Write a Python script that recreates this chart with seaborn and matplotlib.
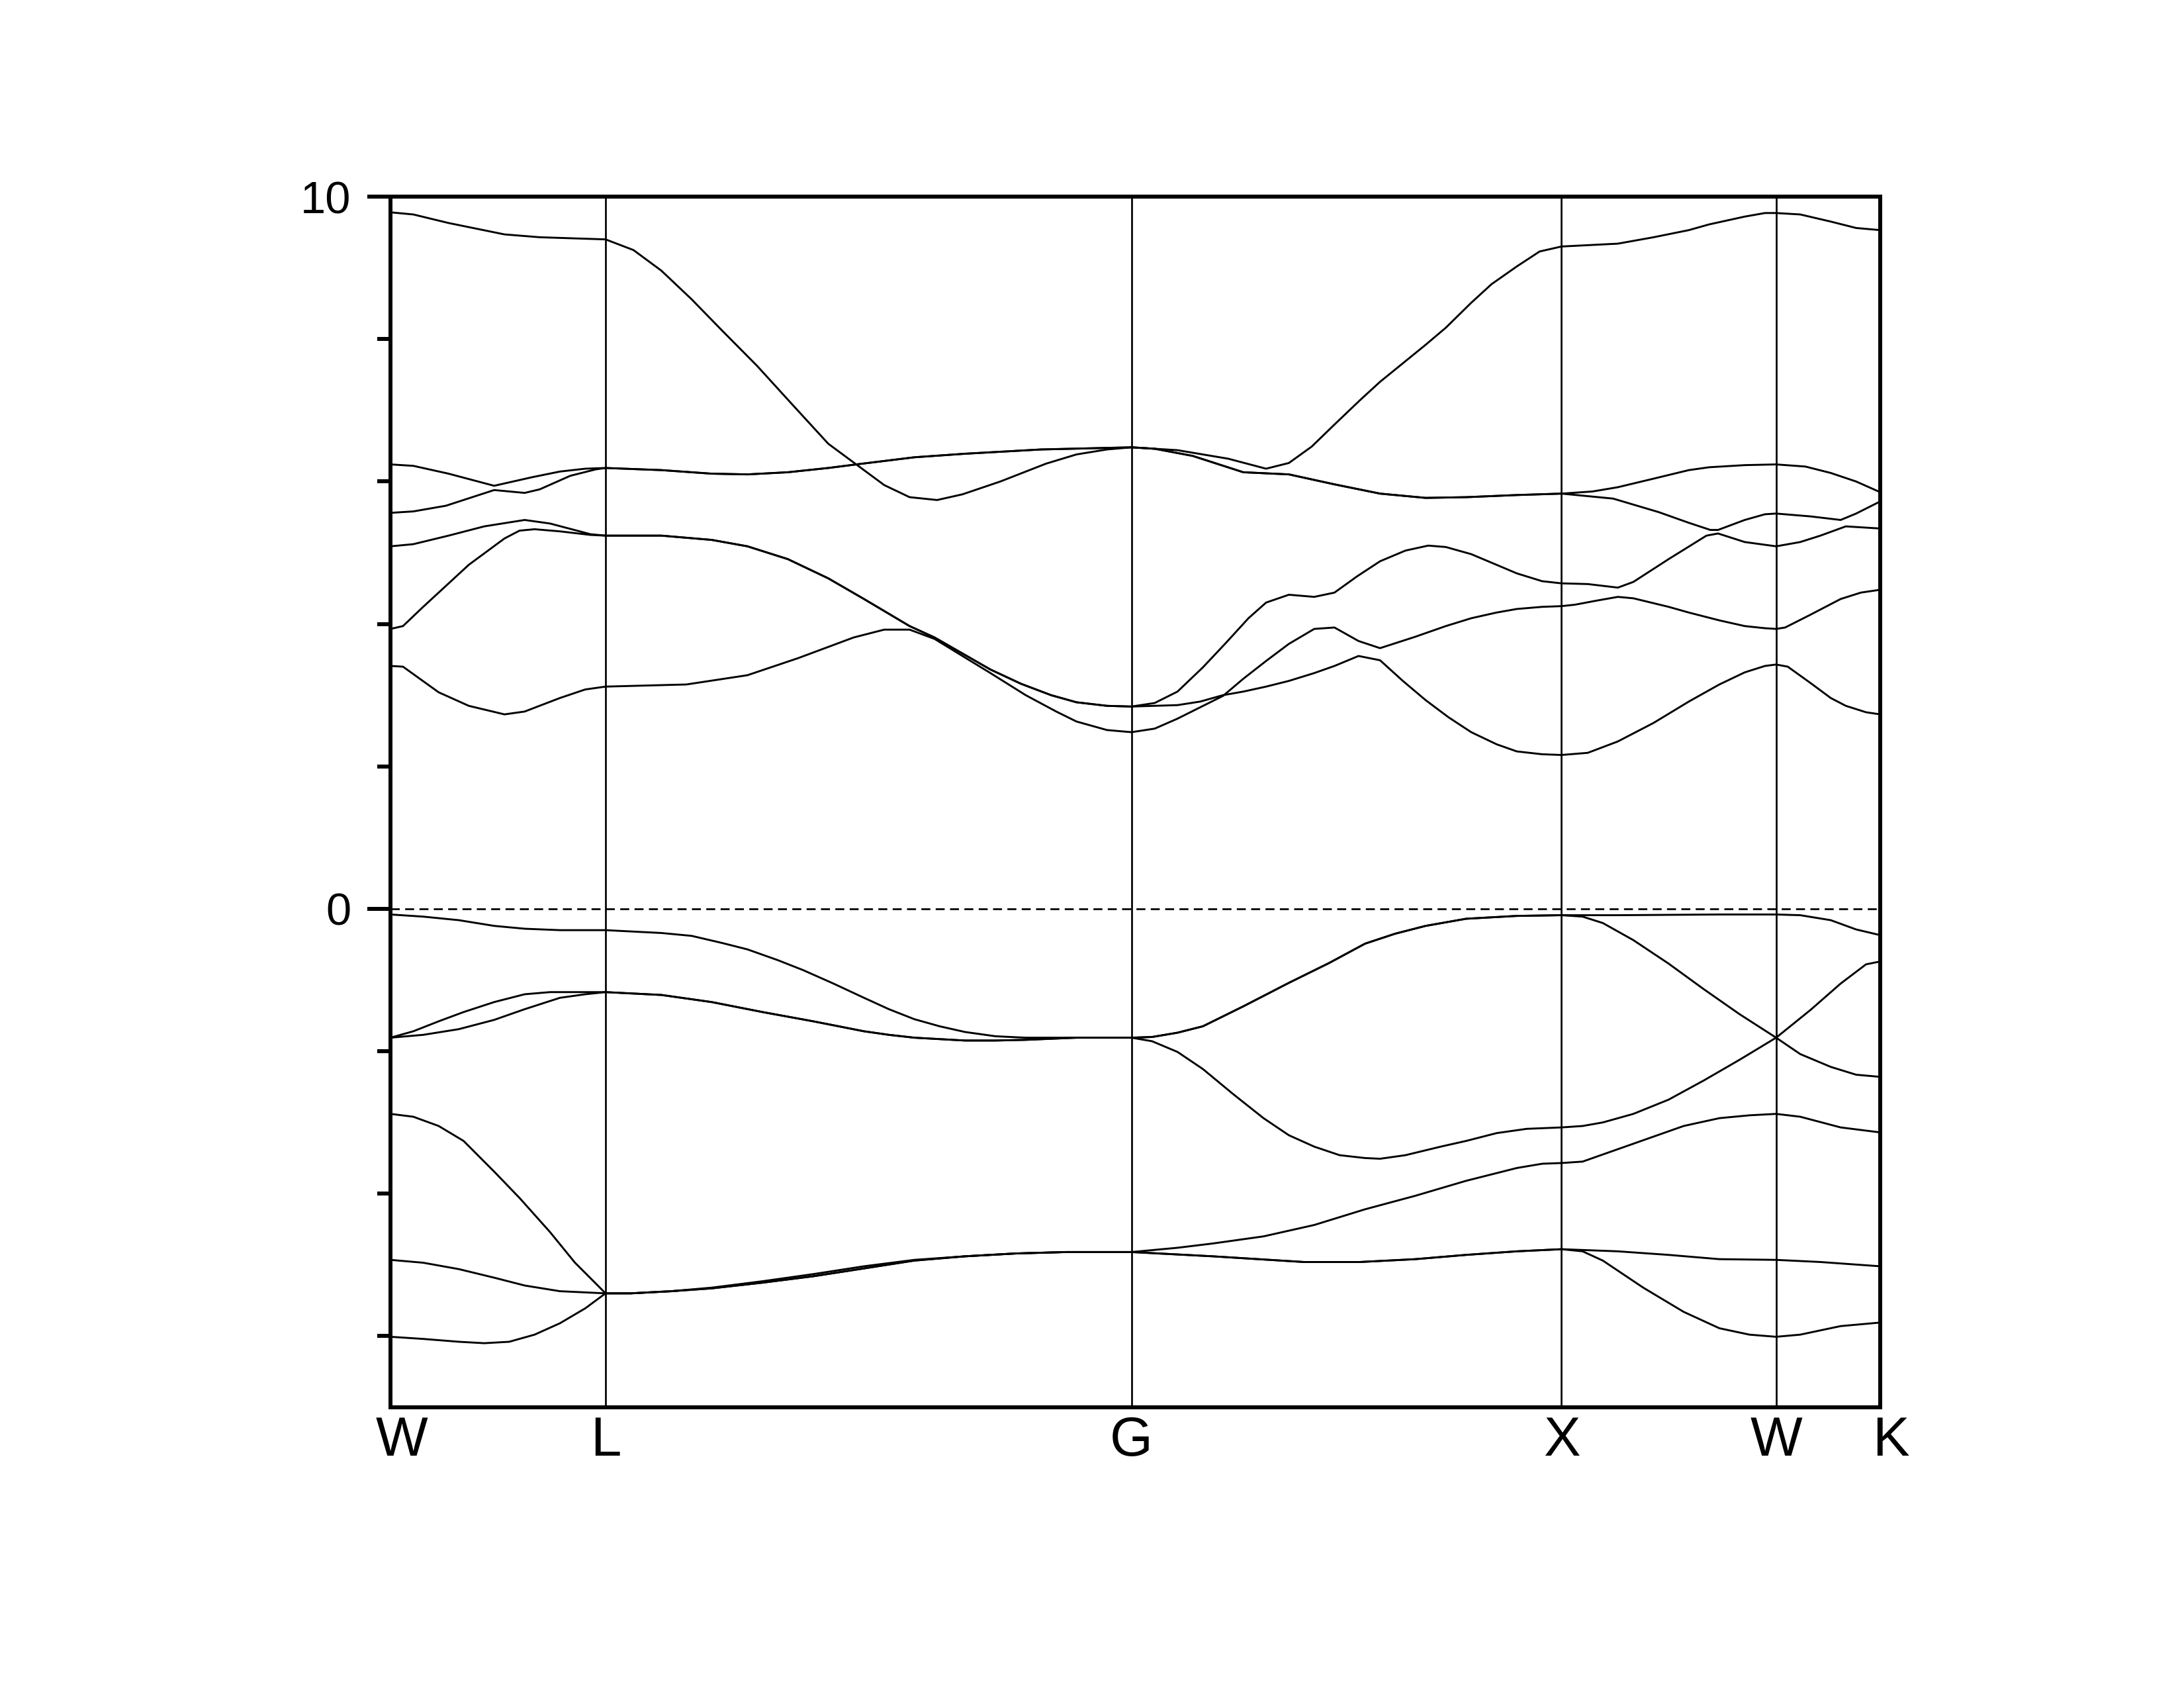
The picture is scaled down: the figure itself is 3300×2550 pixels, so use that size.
import matplotlib
matplotlib.use("Agg")
import matplotlib.pyplot as plt
import matplotlib.transforms as mtrans
from matplotlib.ticker import FixedLocator, MultipleLocator
import pandas as pd
import seaborn as sns

# high symmetry points along the path
kpoints = [0.0, 0.5, 1.723, 2.723, 3.222, 3.464]
klabels = ["W", "L", "G", "X", "W", "K"]

# ---- conduction bands (k, E) ----
c6 = [(0.000, 9.78), (0.053, 9.75), (0.135, 9.63), (0.265, 9.47), (0.347, 9.43), (0.500, 9.40),
      (0.565, 9.25), (0.630, 8.96), (0.700, 8.56), (0.771, 8.12), (0.853, 7.62), (0.936, 7.07),
      (1.018, 6.53), (1.083, 6.24), (1.148, 5.95), (1.207, 5.78), (1.271, 5.74), (1.330, 5.82),
      (1.418, 6.00), (1.524, 6.25), (1.595, 6.38), (1.666, 6.45), (1.723, 6.48),
      (1.830, 6.44), (1.948, 6.32), (2.036, 6.18), (2.089, 6.26), (2.142, 6.49), (2.195, 6.80),
      (2.254, 7.14), (2.301, 7.40), (2.407, 7.92), (2.454, 8.16), (2.513, 8.51), (2.560, 8.77),
      (2.619, 9.02), (2.672, 9.23), (2.723, 9.30),
      (2.854, 9.34), (2.937, 9.43), (3.019, 9.53), (3.066, 9.61), (3.149, 9.72), (3.196, 9.77),
      (3.222, 9.77), (3.278, 9.75), (3.349, 9.65), (3.408, 9.56), (3.464, 9.53)]

c5_wl = [(0.000, 6.24), (0.053, 6.22), (0.135, 6.11), (0.241, 5.94), (0.329, 6.06), (0.394, 6.14),
         (0.453, 6.18), (0.500, 6.19)]
c4_wl = [(0.000, 5.56), (0.053, 5.58), (0.129, 5.66), (0.241, 5.88), (0.312, 5.84), (0.347, 5.89),
         (0.418, 6.08), (0.477, 6.17), (0.500, 6.19)]
c45_lg = [(0.630, 6.16), (0.747, 6.11), (0.830, 6.10), (0.924, 6.13), (1.018, 6.19), (1.083, 6.24),
          (1.218, 6.34), (1.336, 6.39), (1.513, 6.45), (1.723, 6.48)]
c45_gx = [(1.777, 6.46), (1.865, 6.36), (1.983, 6.13), (2.089, 6.10), (2.195, 5.96), (2.301, 5.83),
          (2.407, 5.77), (2.501, 5.78), (2.619, 5.81), (2.723, 5.83)]
c5_xk = [(2.795, 5.86), (2.854, 5.92), (2.937, 6.04), (3.019, 6.16), (3.066, 6.20), (3.149, 6.23),
         (3.222, 6.24), (3.290, 6.21), (3.349, 6.12), (3.408, 6.00), (3.464, 5.85)]
c4_xk = [(2.843, 5.76), (2.949, 5.57), (3.019, 5.42), (3.069, 5.32), (3.087, 5.32), (3.149, 5.46),
         (3.196, 5.54), (3.222, 5.55), (3.302, 5.51), (3.372, 5.46), (3.408, 5.55), (3.464, 5.72)]

c3_wl = [(0.000, 5.09), (0.053, 5.12), (0.135, 5.24), (0.218, 5.37), (0.312, 5.46), (0.371, 5.41),
         (0.465, 5.26), (0.500, 5.24)]
c2_wl = [(0.000, 3.93), (0.029, 3.97), (0.076, 4.24), (0.182, 4.83), (0.265, 5.20), (0.300, 5.31),
         (0.335, 5.33), (0.394, 5.30), (0.465, 5.25), (0.500, 5.24)]
c23_lg = [(0.630, 5.24), (0.747, 5.18), (0.830, 5.09), (0.924, 4.91), (1.018, 4.64), (1.101, 4.35),
          (1.207, 3.97), (1.265, 3.81), (1.395, 3.36), (1.466, 3.16), (1.536, 3.00), (1.595, 2.90),
          (1.666, 2.85), (1.723, 2.84)]
c3_gk = [(1.777, 2.89), (1.830, 3.05), (1.889, 3.39), (1.942, 3.73), (1.995, 4.08), (2.036, 4.30),
         (2.089, 4.41), (2.148, 4.38), (2.195, 4.44), (2.248, 4.67), (2.301, 4.88), (2.360, 5.03),
         (2.413, 5.10), (2.454, 5.08), (2.513, 4.98), (2.572, 4.83), (2.619, 4.71), (2.678, 4.60),
         (2.723, 4.57), (2.784, 4.56), (2.854, 4.51), (2.890, 4.59), (2.972, 4.91), (3.060, 5.24),
         (3.087, 5.27), (3.149, 5.15), (3.222, 5.09), (3.278, 5.15), (3.325, 5.24), (3.384, 5.37),
         (3.464, 5.34)]
c2_gk = [(1.830, 2.86), (1.883, 2.91), (1.936, 3.00), (1.983, 3.05), (2.036, 3.12), (2.089, 3.20),
         (2.148, 3.31), (2.195, 3.41), (2.251, 3.55), (2.301, 3.49), (2.354, 3.20), (2.407, 2.93),
         (2.460, 2.69), (2.513, 2.48), (2.572, 2.31), (2.619, 2.21), (2.678, 2.17), (2.723, 2.16),
         (2.784, 2.19), (2.854, 2.35), (2.937, 2.61), (3.019, 2.91), (3.090, 3.15), (3.149, 3.32),
         (3.196, 3.41), (3.222, 3.43), (3.249, 3.40), (3.302, 3.17), (3.349, 2.96), (3.384, 2.85),
         (3.431, 2.76), (3.464, 2.73)]

c1 = [(0.000, 3.41), (0.029, 3.40), (0.112, 3.04), (0.182, 2.85), (0.265, 2.73), (0.312, 2.77),
      (0.394, 2.96), (0.453, 3.08), (0.500, 3.12),
      (0.688, 3.15), (0.830, 3.28), (0.948, 3.52), (1.077, 3.81), (1.148, 3.92), (1.207, 3.92),
      (1.265, 3.79), (1.395, 3.31), (1.477, 3.00), (1.548, 2.77), (1.595, 2.63), (1.666, 2.51),
      (1.723, 2.48),
      (1.777, 2.53), (1.830, 2.67), (1.883, 2.83), (1.936, 2.99), (1.983, 3.23), (2.036, 3.48),
      (2.089, 3.72), (2.148, 3.93), (2.195, 3.95), (2.251, 3.76), (2.301, 3.66), (2.383, 3.82),
      (2.454, 3.97), (2.513, 4.08), (2.572, 4.16), (2.619, 4.21), (2.678, 4.24), (2.723, 4.25),
      (2.754, 4.27), (2.807, 4.33), (2.854, 4.38), (2.890, 4.36), (2.972, 4.24), (3.019, 4.16),
      (3.090, 4.05), (3.149, 3.97), (3.196, 3.94), (3.222, 3.93), (3.243, 3.95), (3.302, 4.13),
      (3.372, 4.35), (3.419, 4.44), (3.464, 4.48)]

# ---- valence bands (k, E) ----
v1_wg = [(0.000, -0.08), (0.076, -0.11), (0.159, -0.16), (0.241, -0.24), (0.312, -0.28),
         (0.394, -0.30), (0.500, -0.30), (0.630, -0.34), (0.700, -0.38), (0.771, -0.48),
         (0.830, -0.57), (0.900, -0.72), (0.959, -0.86), (1.030, -1.05), (1.101, -1.25),
         (1.159, -1.41), (1.218, -1.55), (1.277, -1.65), (1.336, -1.73), (1.407, -1.79),
         (1.477, -1.81), (1.595, -1.81), (1.723, -1.81)]
v12_gx = [(1.771, -1.80), (1.830, -1.74), (1.889, -1.65), (1.983, -1.37), (2.089, -1.04),
          (2.183, -0.76), (2.266, -0.49), (2.336, -0.35), (2.407, -0.24), (2.501, -0.14),
          (2.619, -0.10), (2.723, -0.09)]
v1_xk = [(2.854, -0.09), (2.972, -0.085), (3.090, -0.08), (3.222, -0.08), (3.278, -0.09),
         (3.349, -0.16), (3.408, -0.29), (3.464, -0.37)]
v2_wl = [(0.000, -1.81), (0.053, -1.72), (0.112, -1.58), (0.170, -1.45), (0.241, -1.31),
         (0.312, -1.20), (0.371, -1.17), (0.429, -1.17), (0.500, -1.17)]
v3_wl = [(0.000, -1.81), (0.076, -1.77), (0.159, -1.69), (0.241, -1.56), (0.312, -1.41),
         (0.394, -1.25), (0.453, -1.20), (0.500, -1.17)]
v23_lg = [(0.630, -1.21), (0.747, -1.31), (0.865, -1.45), (0.983, -1.58), (1.101, -1.72),
          (1.159, -1.77), (1.218, -1.81), (1.336, -1.85), (1.407, -1.85), (1.477, -1.84),
          (1.595, -1.81), (1.723, -1.81)]
v2_xk = [(2.772, -0.11), (2.819, -0.20), (2.890, -0.44), (2.972, -0.77), (3.054, -1.13),
         (3.137, -1.48), (3.222, -1.81), (3.278, -2.04), (3.349, -2.22), (3.408, -2.33),
         (3.464, -2.36)]
v3_gk = [(1.771, -1.86), (1.830, -2.01), (1.889, -2.25), (1.959, -2.60), (2.030, -2.94),
         (2.089, -3.18), (2.148, -3.34), (2.207, -3.46), (2.266, -3.50), (2.301, -3.51),
         (2.360, -3.46), (2.442, -3.34), (2.501, -3.26), (2.572, -3.15), (2.642, -3.09),
         (2.723, -3.07), (2.772, -3.05), (2.819, -3.00), (2.890, -2.88), (2.972, -2.68),
         (3.054, -2.41), (3.137, -2.12), (3.222, -1.81), (3.302, -1.42), (3.372, -1.05),
         (3.431, -0.78), (3.464, -0.74)]

v4 = [(0.000, -2.88), (0.053, -2.92), (0.112, -3.05), (0.170, -3.26), (0.241, -3.69),
      (0.300, -4.06), (0.371, -4.54), (0.429, -4.97), (0.477, -5.26), (0.500, -5.40),
      (0.559, -5.40), (0.653, -5.37), (0.747, -5.32), (0.865, -5.23), (0.983, -5.13),
      (1.101, -5.02), (1.218, -4.93), (1.336, -4.88), (1.454, -4.84), (1.571, -4.82),
      (1.723, -4.82),
      (1.830, -4.76), (1.912, -4.70), (2.030, -4.60), (2.148, -4.44), (2.266, -4.22),
      (2.383, -4.03), (2.501, -3.82), (2.619, -3.64), (2.678, -3.58), (2.723, -3.57),
      (2.772, -3.55), (2.819, -3.45), (2.913, -3.25), (3.007, -3.05), (3.090, -2.94),
      (3.160, -2.90), (3.222, -2.88), (3.278, -2.92), (3.372, -3.07), (3.464, -3.14)]
v5_wl = [(0.000, -4.93), (0.076, -4.97), (0.159, -5.06), (0.241, -5.18), (0.312, -5.29),
         (0.394, -5.37), (0.500, -5.40)]
v6_wl = [(0.000, -6.01), (0.076, -6.04), (0.159, -6.08), (0.218, -6.10), (0.276, -6.08),
         (0.335, -5.98), (0.394, -5.82), (0.453, -5.61), (0.500, -5.40)]
v56_lx = [(0.559, -5.40), (0.653, -5.37), (0.747, -5.33), (0.865, -5.25), (0.983, -5.16),
          (1.101, -5.05), (1.218, -4.94), (1.336, -4.88), (1.454, -4.84), (1.571, -4.82),
          (1.723, -4.82), (1.912, -4.88), (2.124, -4.96), (2.254, -4.96), (2.383, -4.92),
          (2.501, -4.86), (2.619, -4.81), (2.723, -4.78)]
v5_xk = [(2.854, -4.81), (2.972, -4.86), (3.090, -4.92), (3.222, -4.93), (3.325, -4.96),
         (3.464, -5.02)]
v6_xk = [(2.772, -4.81), (2.819, -4.94), (2.913, -5.32), (3.007, -5.66), (3.090, -5.89),
         (3.160, -5.98), (3.222, -6.01), (3.278, -5.98), (3.372, -5.86), (3.464, -5.81)]

bands = {
    "c1": c1,
    "c2": c2_wl + c23_lg + c2_gk,
    "c3": c3_wl + c23_lg + c3_gk,
    "c4": c4_wl + c45_lg + c45_gx + c4_xk,
    "c5": c5_wl + c45_lg + c45_gx + c5_xk,
    "c6": c6,
    "v1": v1_wg + v12_gx + v1_xk,
    "v2": v2_wl + v23_lg + v12_gx + v2_xk,
    "v3": v3_wl + v23_lg + v3_gk,
    "v4": v4,
    "v5": v5_wl + v56_lx + v5_xk,
    "v6": v6_wl + v56_lx + v6_xk,
}

rows = []
for name, pts in bands.items():
    for k, e in pts:
        rows.append({"band": name, "k": k, "E": e})
df = pd.DataFrame(rows)

sns.set_theme(style="white")
plt.rcParams["font.family"] = ["Liberation Sans", "DejaVu Sans"]

fig = plt.figure(figsize=(11, 8.5), dpi=300)
ax = fig.add_axes([0.1788, 0.1663, 0.6821, 0.7172])

sns.lineplot(data=df, x="k", y="E", units="band", estimator=None, color="black",
             linewidth=0.7, legend=False, ax=ax)

for kp in kpoints[1:-1]:
    ax.axvline(kp, color="black", lw=0.65, zorder=1)
ax.axhline(0, color="black", lw=0.65, ls=(0, (5, 3)), zorder=1)

ax.set_xlim(kpoints[0], kpoints[-1])
ax.set_ylim(-7, 10)
ax.set_xlabel("")
ax.set_ylabel("")

ax.xaxis.set_major_locator(FixedLocator(kpoints))
ax.set_xticklabels(klabels, fontsize=20, color="black")
ax.tick_params(axis="x", length=0, pad=3, labelcolor="black")

ax.yaxis.set_major_locator(FixedLocator([0, 10]))
ax.yaxis.set_minor_locator(MultipleLocator(2))
ax.set_yticklabels(["0", "10"], fontsize=16.5, color="black")
ax.tick_params(axis="y", which="major", direction="out", length=8.4, width=1.44,
               pad=6, left=True, color="black", labelcolor="black")
ax.tick_params(axis="y", which="minor", direction="out", length=4.7, width=1.44,
               left=True, color="black")

for sp in ax.spines.values():
    sp.set_visible(True)
    sp.set_color("black")
    sp.set_linewidth(1.44)

# nudge the end labels like the original
labs = ax.get_xticklabels()
labs[0].set_transform(labs[0].get_transform() +
                      mtrans.ScaledTranslation(17 / 300, 0, fig.dpi_scale_trans))
labs[-1].set_transform(labs[-1].get_transform() +
                       mtrans.ScaledTranslation(16 / 300, 0, fig.dpi_scale_trans))

fig.savefig("out.png", dpi=300, facecolor="white")
